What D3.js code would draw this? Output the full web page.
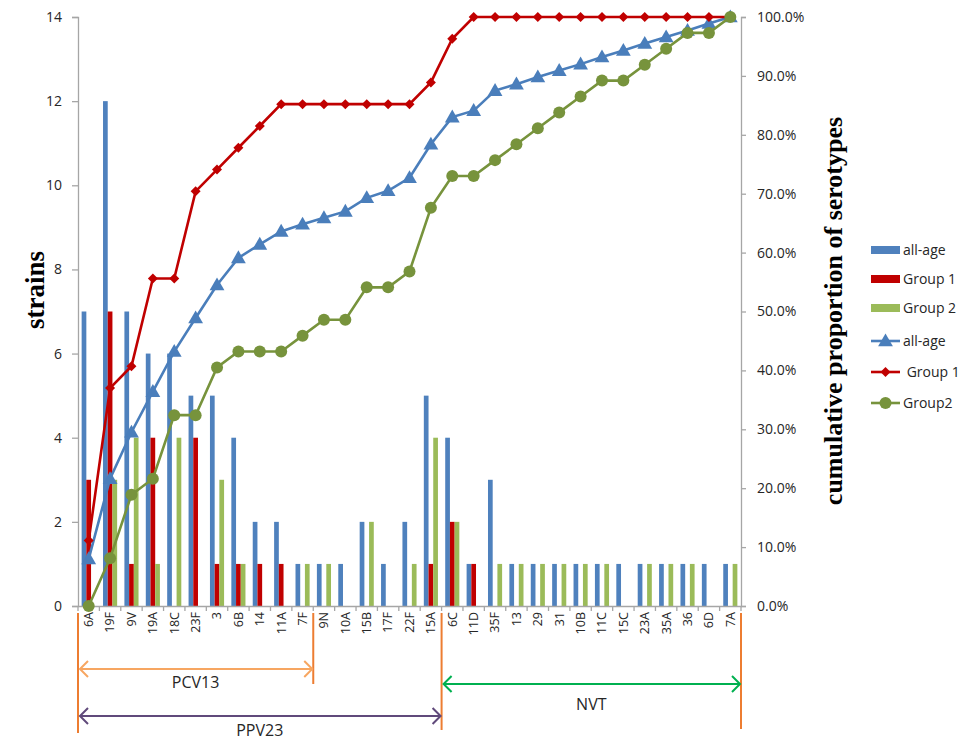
<!DOCTYPE html>
<html>
<head>
<meta charset="utf-8">
<script src="https://cdn.jsdelivr.net/npm/d3@7"></script>
<style>
  body { margin: 0; background: #fff; }
  svg text { font-family: "Open Sans", "Noto Sans", sans-serif; fill: #262626; }
  .serif { font-family: "Liberation Serif", "DejaVu Serif", serif !important; font-weight: bold; fill: #000 !important; }
</style>
</head>
<body>
<svg id="chart" width="962" height="742"></svg>
<script>
// serotypes, in the order of the x axis
let categories = ['6A','19F','9V','19A','18C','23F','3','6B','14','11A','7F','9N','10A','15B','17F','22F','15A',
                  '6C','11D','35F','13','29','31','10B','11C','15C','23A','35A','36','6D','7A']

// strains per serotype (bars)
let allAge = [7,12,7,6,6,5,5,4,2,2,1,1,1,2,1,2,5,4,1,3,1,1,1,1,1,1,1,1,1,1,1]
let group1 = [3,7,1,4,0,4,1,1,1,1,0,0,0,0,0,0,1,2,1,0,0,0,0,0,0,0,0,0,0,0,0]
let group2 = [0,3,4,1,4,0,3,1,0,0,1,1,0,2,0,1,4,2,0,1,1,1,1,1,1,0,1,1,1,0,1]

// cumulative proportion of serotypes, % (lines)
let cumAllAge = [8.0,21.6,29.5,36.4,43.2,48.9,54.5,59.1,61.4,63.6,64.8,65.9,67.0,69.3,70.5,72.7,78.4,
                 83.0,84.1,87.5,88.6,89.8,90.9,92.0,93.2,94.3,95.5,96.6,97.7,98.9,100]
let cumGroup1 = [11.1,37.0,40.7,55.6,55.6,70.4,74.1,77.8,81.5,85.2,85.2,85.2,85.2,85.2,85.2,85.2,88.9,
                 96.3,100,100,100,100,100,100,100,100,100,100,100,100,100]
let cumGroup2 = [0,8.1,18.9,21.6,32.4,32.4,40.5,43.2,43.2,43.2,45.9,48.6,48.6,54.1,54.1,56.8,67.6,
                 73.0,73.0,75.7,78.4,81.1,83.8,86.5,89.2,89.2,91.9,94.6,97.3,97.3,100]

let leftTicks = [0,2,4,6,8,10,12,14]
let rightTicks = [0,0.1,0.2,0.3,0.4,0.5,0.6,0.7,0.8,0.9,1]

// vaccine coverage groups (first and last serotype index)
let vaccineGroups = [
  {label: 'PCV13', from: 0, to: 10},
  {label: 'PPV23', from: 0, to: 16},
  {label: 'NVT', from: 17, to: 30}
]

let svg = d3.select('#chart'),
    plotLeft = 78, plotRight = 741, plotTop = 17, plotBottom = 606

let x = d3.scaleBand().domain(categories).range([plotLeft, plotRight]).padding(0)
let y = d3.scaleLinear().domain([0, 14]).range([plotBottom, plotTop])
let yR = d3.scaleLinear().domain([0, 1]).range([plotBottom, plotTop])

let barSeries = [
  {name: 'all-age', values: allAge, color: '#4f81bd'},
  {name: 'Group 1', values: group1, color: '#c00000'},
  {name: 'Group 2', values: group2, color: '#9bbb59'}
]
let lineSeries = [
  {name: 'all-age', values: cumAllAge, color: '#4a7ebb', marker: 'triangle'},
  {name: ' Group 1', values: cumGroup1, color: '#c00000', marker: 'diamond'},
  {name: 'Group2', values: cumGroup2, color: '#77933c', marker: 'circle'}
]

// bars inside each category
let inner = d3.scaleBand().domain(barSeries.map(s => s.name))
  .range([x.bandwidth() * 0.17, x.bandwidth() * 0.83])

barSeries.forEach(s => {
  svg.append('g').selectAll('rect')
    .data(s.values)
    .join('rect')
    .attr('x', (d, i) => x(categories[i]) + inner(s.name))
    .attr('y', d => y(d))
    .attr('width', inner.bandwidth())
    .attr('height', d => y(0) - y(d))
    .attr('fill', s.color)
})

// axes
let axisColor = '#a6a6a6'
let gl = svg.append('g').attr('transform', `translate(${plotLeft},0)`)
  .call(d3.axisLeft(y).tickValues(leftTicks).tickSize(6).tickPadding(10))
let gr = svg.append('g').attr('transform', `translate(${plotRight},0)`)
  .call(d3.axisRight(yR).tickValues(rightTicks).tickSize(5).tickPadding(11).tickFormat(d3.format('.1%')))
let gx = svg.append('g').attr('transform', `translate(0,${plotBottom})`)
  .call(d3.axisBottom(x).tickSize(0).tickPadding(6))

;[gl, gr, gx].forEach(g => {
  g.select('.domain').attr('stroke', axisColor).attr('stroke-width', 1.3)
  g.selectAll('.tick line').attr('stroke', axisColor).attr('stroke-width', 1.3)
  g.selectAll('text').style('font-size', '14px').attr('fill', '#262626')
})
gx.selectAll('.tick text')
  .style('font-size', '12.5px')
  .attr('transform', 'rotate(-90)')
  .attr('text-anchor', 'end')
  .attr('x', -6).attr('y', 0).attr('dy', '0.35em')

// category boundary ticks on x axis
svg.append('g').selectAll('line')
  .data(d3.range(categories.length + 1))
  .join('line')
  .attr('x1', i => plotLeft + i * x.step()).attr('x2', i => plotLeft + i * x.step())
  .attr('y1', plotBottom).attr('y2', plotBottom + 5)
  .attr('stroke', axisColor).attr('stroke-width', 1.3)

// cumulative lines
let line = d3.line()
  .x((d, i) => x(categories[i]) + x.bandwidth() / 2)
  .y(d => yR(d / 100))

function drawMarker(g, type, color, cx, cy) {
  if (type === 'triangle') {
    g.append('path').attr('d', d3.symbol(d3.symbolTriangle, 95)())
      .attr('transform', `translate(${cx},${cy + 1})`).attr('fill', color)
  } else if (type === 'diamond') {
    g.append('path').attr('d', d3.symbol(d3.symbolSquare, 50)())
      .attr('transform', `translate(${cx},${cy}) rotate(45)`).attr('fill', color)
  } else {
    g.append('circle').attr('cx', cx).attr('cy', cy).attr('r', 6).attr('fill', color)
  }
}

lineSeries.forEach(s => {
  let g = svg.append('g')
  g.append('path').datum(s.values)
    .attr('d', line)
    .attr('fill', 'none')
    .attr('stroke', s.color)
    .attr('stroke-width', 2.6)
  s.values.forEach((v, i) => {
    drawMarker(g, s.marker, s.color, x(categories[i]) + x.bandwidth() / 2, yR(v / 100))
  })
})

// axis titles
svg.append('text').attr('class', 'serif')
  .attr('transform', 'translate(44,290) rotate(-90)')
  .attr('text-anchor', 'middle')
  .style('font-size', '27px')
  .text('strains')
svg.append('text').attr('class', 'serif')
  .attr('transform', 'translate(842,311) rotate(-90)')
  .attr('text-anchor', 'middle')
  .style('font-size', '26px')
  .text('cumulative proportion of serotypes')

// legend
let legend = svg.append('g').attr('transform', 'translate(871,0)')
barSeries.forEach((s, i) => {
  let ly = 250 + i * 29
  legend.append('rect').attr('x', 0).attr('y', ly - 4).attr('width', 29).attr('height', 8).attr('fill', s.color)
  legend.append('text').attr('x', 32).attr('y', ly).attr('dy', '0.35em').style('font-size', '14px').text(s.name)
})
lineSeries.forEach((s, i) => {
  let ly = 341 + i * 31
  legend.append('line').attr('x1', 0).attr('x2', 29).attr('y1', ly).attr('y2', ly)
    .attr('stroke', s.color).attr('stroke-width', 2.6)
  drawMarker(legend.append('g'), s.marker, s.color, 14.5, ly)
  legend.append('text').attr('x', 32).attr('y', ly).attr('dy', '0.35em').style('font-size', '14px')
    .attr('xml:space', 'preserve').text(s.name)
})

// vaccine coverage annotations under the axis
let boundary = i => plotLeft + i * x.step()
let vline = (i, y2) => svg.append('line')
  .attr('x1', boundary(i)).attr('x2', boundary(i))
  .attr('y1', 613).attr('y2', y2)
  .attr('stroke', '#ed7d31').attr('stroke-width', 2)
vline(0, 733)
vline(11, 684)
vline(17, 730)
vline(31, 729)

function arrow(x1, x2, ay, color) {
  let h = 8
  svg.append('path')
    .attr('d', `M${x1},${ay}H${x2}M${x1 + h},${ay - h}L${x1},${ay}L${x1 + h},${ay + h}` +
               `M${x2 - h},${ay - h}L${x2},${ay}L${x2 - h},${ay + h}`)
    .attr('fill', 'none').attr('stroke', color).attr('stroke-width', 2)
}

let annotStyle = [
  {arrowY: 669, textY: 682, color: '#f7a661'},
  {arrowY: 716, textY: 730, color: '#604a7b'},
  {arrowY: 684, textY: 704, color: '#00b050'}
]
vaccineGroups.forEach((v, i) => {
  let st = annotStyle[i],
      x1 = boundary(v.from) + 2,
      x2 = boundary(v.to + 1) - 1
  arrow(x1, x2, st.arrowY, st.color)
  svg.append('text')
    .attr('x', (boundary(v.from) + boundary(v.to + 1)) / 2)
    .attr('y', st.textY).attr('dy', '0.35em')
    .attr('text-anchor', 'middle')
    .style('font-size', '16px')
    .text(v.label)
})
</script>
</body>
</html>
